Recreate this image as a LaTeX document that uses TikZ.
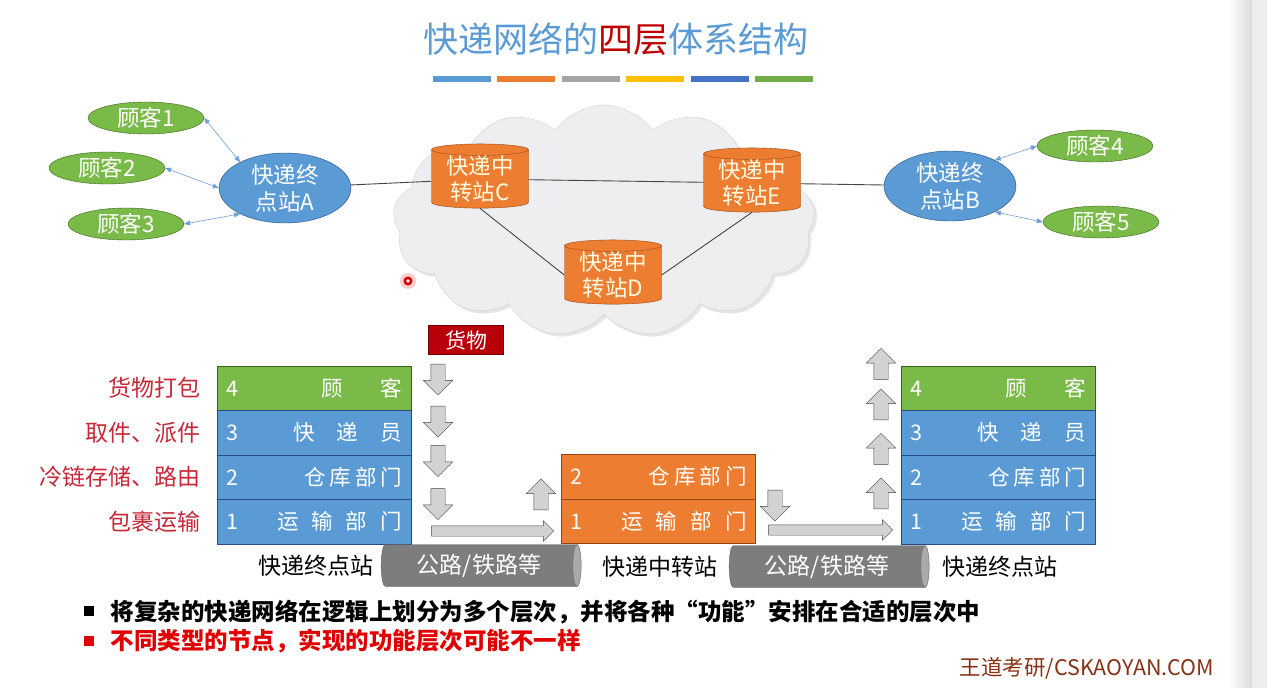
\documentclass[tikz,border=0pt]{standalone}
\usepackage{fontspec}
\setmainfont{Noto Sans CJK SC}
\usetikzlibrary{shapes.geometric,shapes.symbols,shapes.arrows,arrows.meta,shadows}

\definecolor{titleblue}{RGB}{91,155,213}
\definecolor{titlered}{RGB}{192,0,0}
\definecolor{barblue}{RGB}{91,155,213}
\definecolor{barorange}{RGB}{237,125,49}
\definecolor{bargray}{RGB}{165,165,165}
\definecolor{baryellow}{RGB}{255,192,0}
\definecolor{bardarkblue}{RGB}{68,114,196}
\definecolor{bargreen}{RGB}{112,173,71}
\definecolor{custgreen}{RGB}{122,186,72}
\definecolor{custline}{RGB}{56,100,30}
\definecolor{termblue}{RGB}{91,155,213}
\definecolor{termline}{RGB}{40,75,130}
\definecolor{huborange}{RGB}{237,125,49}
\definecolor{hubline}{RGB}{150,70,20}
\definecolor{hubtext}{RGB}{255,250,225}
\definecolor{cloudgray}{RGB}{238,238,241}
\definecolor{linkgray}{RGB}{70,70,70}
\definecolor{clientblue}{RGB}{110,160,215}
\definecolor{cargored}{RGB}{185,0,10}
\definecolor{rolered}{RGB}{200,40,55}
\definecolor{pipegray}{RGB}{125,125,125}
\definecolor{pipeend}{RGB}{170,170,170}
\definecolor{bulletred}{RGB}{225,0,0}
\definecolor{brandbrown}{RGB}{135,50,20}

\tikzset{
  titletext/.style={text=titleblue, font=\fontsize{35}{37}\selectfont},
  customer/.style={ellipse, draw=custline, fill=custgreen, text=white, minimum width=116, minimum height=32, inner sep=0pt, font=\fontsize{22.5}{24}\selectfont},
  terminal/.style={ellipse, draw=termline, fill=termblue, text=white, minimum width=132, minimum height=70, inner sep=0pt, align=center, font=\fontsize{22.5}{27}\selectfont},
  hub/.style={cylinder, shape border rotate=90, aspect=0.17, draw=hubline, cylinder uses custom fill, cylinder body fill=huborange, cylinder end fill=huborange, minimum width=97, minimum height=60, inner sep=0pt, align=center, text=hubtext, font=\fontsize{22.5}{26}\selectfont},
  cloudbg/.style={cloud, cloud puffs=13, cloud puff arc=110, aspect=1.8, draw=gray!35, fill=cloudgray, minimum width=422, minimum height=232, drop shadow={opacity=0.2}},
  link/.style={linkgray, line width=0.9pt},
  clientlink/.style={clientblue, line width=0.6pt, {Triangle[length=6pt,width=5pt]}-{Triangle[length=6pt,width=5pt]}},
  layer/.style={rectangle, text=white, minimum width=194, minimum height=44.5, text width=176, inner xsep=9pt, align=left, font=\fontsize{21.5}{24}\selectfont},
  greenlayer/.style={layer, draw=custline, fill=custgreen},
  bluelayer/.style={layer, draw=termline, fill=termblue},
  orangelayer/.style={layer, draw=hubline, fill=huborange},
  rolelabel/.style={anchor=east, text=rolered, font=\fontsize{23}{25}\selectfont},
  cargo/.style={rectangle, draw=cargored!60!black, fill=cargored, text=white, minimum width=75, minimum height=29, inner sep=0pt, font=\fontsize{21}{22}\selectfont},
  flowarrow/.style={single arrow, draw=gray!55!black, fill=gray!35, inner sep=0pt, minimum height=31, single arrow head extend=7.5pt},
  downarrow/.style={flowarrow, shape border rotate=270, inner sep=7pt},
  uparrow/.style={flowarrow, shape border rotate=90, inner sep=7pt},
  longarrow/.style={flowarrow, inner sep=5pt, single arrow head extend=5pt},
  pipe/.style={cylinder, aspect=0.35, draw=gray!80!black, cylinder uses custom fill, cylinder body fill=pipegray, cylinder end fill=pipeend, minimum width=42, minimum height=200, inner sep=0pt, text=white, font=\fontsize{23}{24}\selectfont},
  stationlabel/.style={text=black, font=\fontsize{23}{25}\selectfont},
  bulletsq/.style={rectangle, minimum size=10, inner sep=0pt},
  bullettext/.style={anchor=west, font=\bfseries\fontsize{23.5}{26}\selectfont},
  brandtext/.style={text=brandbrown, font=\fontsize{21.5}{24}\selectfont}
}

\begin{document}
\begin{tikzpicture}[x=1pt,y=-1pt]
  \useasboundingbox (0,0) rectangle (1267,688);
  \fill[white] (0,0) rectangle (1267,688);
  \shade[left color=white, right color=gray!28] (1228,0) rectangle (1252,688);
  \fill[gray!14] (1252,0) rectangle (1267,688);

  % title and colour bars
  \node[titletext] (title) at (616,39) {快递网络的\textcolor{titlered}{四层}体系结构};
  \foreach \c [count=\i from 0] in {barblue,barorange,bargray,baryellow,bardarkblue,bargreen}
    \fill[\c] ({433+64.4*\i},76) rectangle ({491+64.4*\i},82);

  % network
  \node[cloudbg] (net) at (604,221) {};
  \fill[red!40, opacity=0.5] (408,281) circle (8);
  \fill[red!85!black] (408,281) circle (4.5);
  \fill[white] (408,281) circle (1.8);

  \node[terminal] (sa) at (285,188) {快递终\\点站A};
  \node[terminal] (sb) at (950,186) {快递终\\点站B};
  \node[hub] (hc) at (480,179) {快递中\\转站C};
  \node[hub] (he) at (752,183) {快递中\\转站E};
  \node[hub] (hd) at (613,275) {快递中\\转站D};

  \node[customer] (k1) at (146,118) {顾客1};
  \node[customer] (k2) at (107,168) {顾客2};
  \node[customer] (k3) at (126,224) {顾客3};
  \node[customer] (k4) at (1095,146) {顾客4};
  \node[customer] (k5) at (1101,222) {顾客5};

  \draw[link] (sa) -- (hc);
  \draw[link] (hc) -- (he);
  \draw[link] (hc.south) -- (hd.west);
  \draw[link] (he.south) -- (hd.east);
  \draw[link] (he) -- (sb);

  \draw[clientlink] (k1.east) -- (sa.150);
  \draw[clientlink] (k2.east) -- (sa.west);
  \draw[clientlink] (k3.east) -- (sa.210);
  \draw[clientlink] (k4.west) -- (sb.30);
  \draw[clientlink] (k5.west) -- (sb.-30);

  % layers of the sending terminal
  \node[cargo] (goods) at (466,340) {货物};
  \node[greenlayer] (a4) at (314,388) {4\hfill 顾\hspace{38pt}客};
  \node[bluelayer] (a3) at (314,432.5) {3\hfill 快\hspace{22pt}递\hspace{22pt}员};
  \node[bluelayer] (a2) at (314,477) {2\hfill 仓\hspace{4pt}库\hspace{4pt}部\hspace{4pt}门};
  \node[bluelayer] (a1) at (314,521.5) {1\hfill 运\hspace{13pt}输\hspace{13pt}部\hspace{13pt}门};
  \node[rolelabel] (r4) at (204,388) {货物打包};
  \node[rolelabel] (r3) at (204,432.5) {取件、派件};
  \node[rolelabel] (r2) at (204,477) {冷链存储、路由};
  \node[rolelabel] (r1) at (204,521.5) {包裹运输};

  % layers of the transfer hub
  \node[orangelayer] (m2) at (658.5,476.5) {2\hfill 仓\hspace{4pt}库\hspace{4pt}部\hspace{4pt}门};
  \node[orangelayer] (m1) at (658.5,521) {1\hfill 运\hspace{13pt}输\hspace{13pt}部\hspace{13pt}门};

  % layers of the receiving terminal
  \node[greenlayer] (b4) at (998,388) {4\hfill 顾\hspace{38pt}客};
  \node[bluelayer] (b3) at (998,432.5) {3\hfill 快\hspace{22pt}递\hspace{22pt}员};
  \node[bluelayer] (b2) at (998,477) {2\hfill 仓\hspace{4pt}库\hspace{4pt}部\hspace{4pt}门};
  \node[bluelayer] (b1) at (998,521.5) {1\hfill 运\hspace{13pt}输\hspace{13pt}部\hspace{13pt}门};

  % flow of the goods
  \node[downarrow] (d1) at (438,376) {};
  \node[downarrow] (d2) at (438,418) {};
  \node[downarrow] (d3) at (438,457.5) {};
  \node[downarrow] (d4) at (438,500.5) {};
  \node[longarrow, minimum height=122] (h1) at (490,531) {};
  \node[uparrow] (u1) at (541,498) {};
  \node[downarrow] (d5) at (775,502) {};
  \node[longarrow, minimum height=124] (h2) at (828,530) {};
  \node[uparrow] (u2) at (881,497) {};
  \node[uparrow] (u3) at (881,452.5) {};
  \node[uparrow] (u4) at (881,408) {};
  \node[uparrow] (u5) at (881,367.5) {};

  % roads
  \node[pipe] (road1) at (479,565.5) {公路/铁路等};
  \node[pipe] (road2) at (827,566.5) {公路/铁路等};
  \node[stationlabel] (ls1) at (316,566) {快递终点站};
  \node[stationlabel] (ls2) at (660,567) {快递中转站};
  \node[stationlabel] (ls3) at (1000,567) {快递终点站};

  % notes
  \node[bulletsq, fill=black] (q1) at (89,611) {};
  \node[bullettext] (n1) at (107,612) {将复杂的快递网络在逻辑上划分为多个层次，并将各种“功能”安排在合适的层次中};
  \node[bulletsq, fill=bulletred] (q2) at (89,641) {};
  \node[bullettext, text=bulletred] (n2) at (107,641) {不同类型的节点，实现的功能层次可能不一样};
  \node[brandtext] (brand) at (1087,668) {王道考研/CSKAOYAN.COM};
\end{tikzpicture}
\end{document}
